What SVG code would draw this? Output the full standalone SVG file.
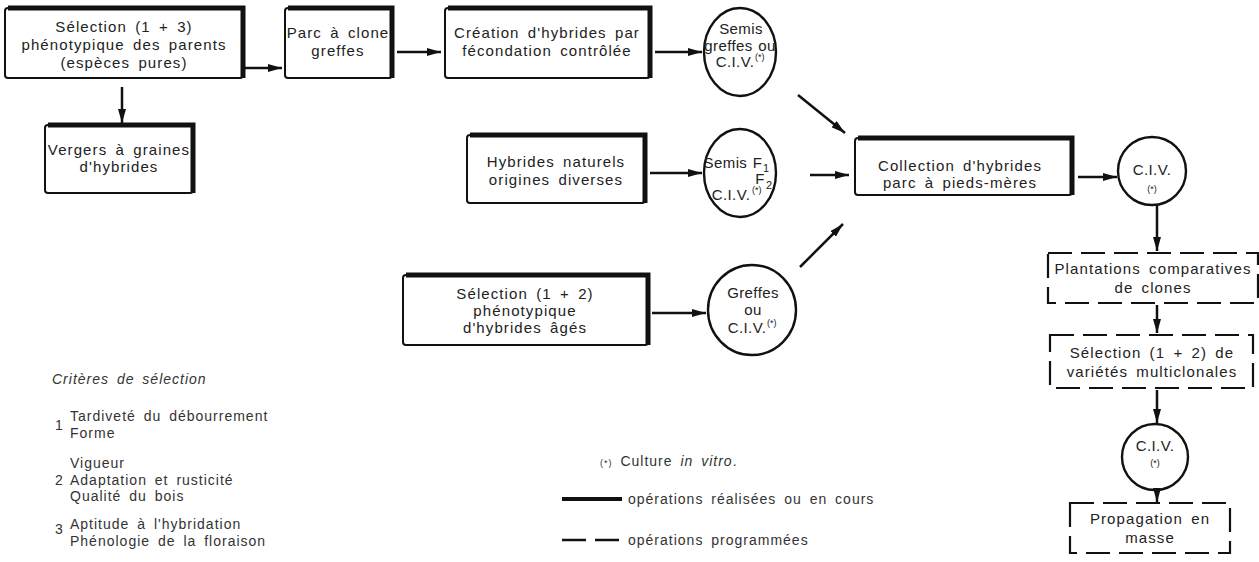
<svg xmlns="http://www.w3.org/2000/svg" width="1259" height="562" viewBox="0 0 1259 562">
<defs>
<marker id="ah" viewBox="0 0 14 8" refX="14" refY="4" markerWidth="14" markerHeight="8" markerUnits="userSpaceOnUse" orient="auto">
<path d="M0,0 L14,4 L0,8 Z" fill="#111"/>
</marker>
</defs>
<style>
.box{fill:#fff;stroke:#111;stroke-width:2}
.sh{fill:none;stroke:#111;stroke-width:5}
.dbox{fill:#fff;stroke:#111;stroke-width:2.2;stroke-dasharray:24 9}
.circ{fill:#fff;stroke:#111;stroke-width:2.4}
.t{font-family:"Liberation Sans",Arial,sans-serif;font-size:15px;fill:#222;letter-spacing:1.1px;word-spacing:3px;text-anchor:middle}
.c{letter-spacing:0.4px;word-spacing:1px}
.s{font-family:"Liberation Sans",Arial,sans-serif;font-size:9px;fill:#222}
.sub{font-family:"Liberation Sans",Arial,sans-serif;font-size:11px;fill:#222}
.lg{font-family:"Liberation Sans",Arial,sans-serif;font-size:14px;fill:#333;letter-spacing:1px;word-spacing:3px}
.it{font-style:italic}
.arr{fill:none;stroke:#111;stroke-width:2.5;marker-end:url(#ah)}
</style>
<rect width="1259" height="562" fill="#fff"/>

<g id="n_sel13">
<rect class="box" x="5" y="8" width="238" height="70" rx="3"/>
<path class="sh" d="M8,8 H243 V78"/>
<text class="t" x="124" y="32">Sélection (1 + 3)</text>
<text class="t" x="124" y="50">phénotypique des parents</text>
<text class="t" x="124" y="68">(espèces pures)</text>
</g>
<g id="n_parc">
<rect class="box" x="285" y="8" width="107" height="70" rx="3"/>
<path class="sh" d="M288,8 H392 V78"/>
<text class="t" x="338" y="38">Parc à clone</text>
<text class="t" x="338" y="56">greffes</text>
</g>
<g id="n_creation">
<rect class="box" x="445" y="8" width="205" height="70" rx="3"/>
<path class="sh" d="M448,8 H650 V78"/>
<text class="t" x="547" y="38">Création d'hybrides par</text>
<text class="t" x="547" y="56">fécondation contrôlée</text>
</g>
<g id="n_vergers">
<rect class="box" x="45" y="125" width="148" height="68" rx="3"/>
<path class="sh" d="M48,125 H193 V193"/>
<text class="t" x="119" y="155">Vergers à graines</text>
<text class="t" x="119" y="172">d'hybrides</text>
</g>
<g id="n_hybnat">
<rect class="box" x="467" y="135" width="178" height="68" rx="3"/>
<path class="sh" d="M470,135 H645 V203"/>
<text class="t" x="556" y="167">Hybrides naturels</text>
<text class="t" x="556" y="185">origines diverses</text>
</g>
<g id="n_sel12">
<rect class="box" x="403" y="275" width="245" height="70" rx="3"/>
<path class="sh" d="M406,275 H648 V345"/>
<text class="t" x="525" y="299">Sélection (1 + 2)</text>
<text class="t" x="525" y="316">phénotypique</text>
<text class="t" x="525" y="333">d'hybrides âgés</text>
</g>
<g id="n_collection">
<rect class="box" x="855" y="138" width="217" height="57" rx="3"/>
<path class="sh" d="M858,138 H1072 V195"/>
<text class="t" x="960" y="171">Collection d'hybrides</text>
<text class="t" x="960" y="188">parc à pieds-mères</text>
</g>

<g id="n_c1">
<ellipse class="circ" cx="740" cy="52" rx="36" ry="44"/>
<text class="t c" x="741" y="34">Semis</text>
<text class="t c" x="740" y="51">greffes ou</text>
<text class="t c" x="735" y="67">C.I.V.</text>
<text class="s" x="755" y="60">(*)</text>
</g>
<g id="n_c2">
<ellipse class="circ" cx="740" cy="173" rx="36" ry="44"/>
<text class="t c" x="733" y="168">Semis F</text>
<text class="sub" x="763" y="172">1</text>
<text class="t c" x="760" y="184">F</text>
<text class="sub" x="766" y="189">2</text>
<text class="t c" x="731" y="200">C.I.V.</text>
<text class="s" x="752" y="193">(*)</text>
</g>
<g id="n_c3">
<ellipse class="circ" cx="752" cy="310" rx="44" ry="45"/>
<text class="t c" x="753" y="298">Greffes</text>
<text class="t c" x="753" y="315">ou</text>
<text class="t c" x="747" y="333">C.I.V.</text>
<text class="s" x="767" y="326">(*)</text>
</g>
<g id="n_civ1">
<circle class="circ" cx="1152" cy="171" r="34"/>
<text class="t c" x="1152" y="175">C.I.V.</text>
<text class="s" x="1152" y="192" text-anchor="middle">(*)</text>
</g>
<g id="n_plant">
<rect class="dbox" x="1048" y="253" width="210" height="50"/>
<text class="t" x="1153" y="274">Plantations comparatives</text>
<text class="t" x="1153" y="293">de clones</text>
</g>
<g id="n_sel3">
<rect class="dbox" x="1050" y="335" width="203" height="53"/>
<text class="t" x="1152" y="358">Sélection (1 + 2) de</text>
<text class="t" x="1152" y="377">variétés multiclonales</text>
</g>
<g id="n_civ2">
<circle class="circ" cx="1155" cy="457" r="33"/>
<text class="t c" x="1155" y="451">C.I.V.</text>
<text class="s" x="1155" y="466" text-anchor="middle">(*)</text>
</g>
<g id="n_prop">
<rect class="dbox" x="1070" y="503" width="160" height="50"/>
<text class="t" x="1150" y="524">Propagation en</text>
<text class="t" x="1150" y="543">masse</text>
</g>

<g id="connectors">
<line class="arr" x1="245" y1="68" x2="282" y2="68"/>
<line class="arr" x1="397" y1="52" x2="441" y2="52"/>
<line class="arr" x1="655" y1="52" x2="702" y2="52"/>
<line class="arr" x1="122" y1="87" x2="122" y2="123"/>
<line class="arr" x1="650" y1="173" x2="702" y2="173"/>
<line class="arr" x1="652" y1="313" x2="706" y2="313"/>
<line class="arr" x1="798" y1="95" x2="845" y2="133"/>
<line class="arr" x1="810" y1="175" x2="849" y2="175"/>
<line class="arr" x1="800" y1="267" x2="843" y2="224"/>
<line class="arr" x1="1078" y1="177" x2="1117" y2="177"/>
<line class="arr" x1="1157" y1="205" x2="1157" y2="251"/>
<line class="arr" x1="1157" y1="305" x2="1157" y2="333"/>
<line class="arr" x1="1157" y1="390" x2="1157" y2="423"/>
<line class="arr" x1="1157" y1="490" x2="1157" y2="502"/>
</g>

<g id="legend">
<text class="lg it" x="52" y="384">Critères de sélection</text>
<text class="lg" x="55" y="430">1</text>
<text class="lg" x="70" y="421">Tardiveté du débourrement</text>
<text class="lg" x="70" y="438">Forme</text>
<text class="lg" x="70" y="468">Vigueur</text>
<text class="lg" x="55" y="485">2</text>
<text class="lg" x="70" y="485">Adaptation et rusticité</text>
<text class="lg" x="70" y="501">Qualité du bois</text>
<text class="lg" x="55" y="534">3</text>
<text class="lg" x="70" y="529">Aptitude à l'hybridation</text>
<text class="lg" x="70" y="546">Phénologie de la floraison</text>
<text class="lg" x="600" y="466"><tspan font-size="9">(*)</tspan> Culture <tspan class="it">in vitro</tspan>.</text>
<line x1="562" y1="499" x2="622" y2="499" stroke="#111" stroke-width="4"/>
<text class="lg" x="628" y="504">opérations réalisées ou en cours</text>
<line x1="562" y1="540" x2="622" y2="540" stroke="#111" stroke-width="2.5" stroke-dasharray="24 9"/>
<text class="lg" x="628" y="545">opérations programmées</text>
</g>
</svg>
